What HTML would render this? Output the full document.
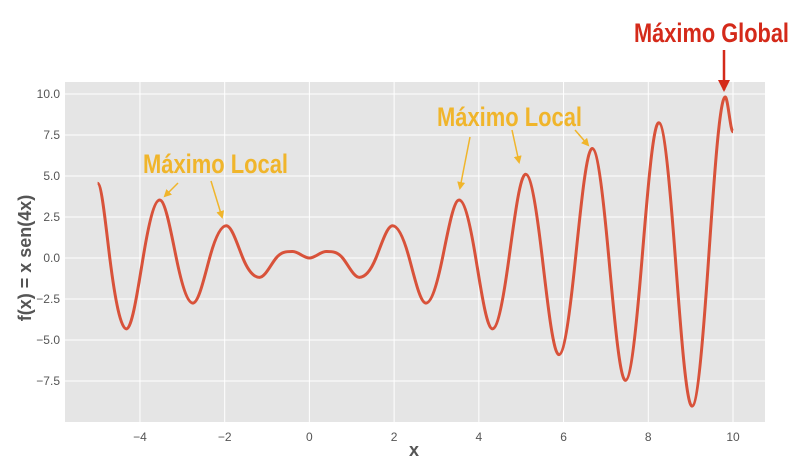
<!DOCTYPE html>
<html><head><meta charset="utf-8"><style>
body{margin:0;background:#fff;}
svg{display:block;font-family:"Liberation Sans",sans-serif;}
.tk{font-size:12px;fill:#555;}
.ann{font-family:"Liberation Sans",sans-serif;font-weight:bold;font-size:27px;}
</style></head><body>
<svg id="c" width="800" height="469">
<rect x="65" y="82" width="700" height="340" fill="#e5e5e5"/>
<g id="grid"></g><g id="ticks"></g>
<path id="curve" fill="none" stroke="#d8523a" stroke-width="3"/>
<text x="0" y="0" transform="translate(31,258) rotate(-90)" text-anchor="middle" font-size="18" font-weight="bold" fill="#555">f(x) = x sen(4x)</text>
<text x="414" y="456" text-anchor="middle" font-size="18" font-weight="bold" fill="#555">x</text>
<g fill="#f0b52b">
<text class="ann" x="143" y="173" textLength="145" lengthAdjust="spacingAndGlyphs">Máximo Local</text>
<text class="ann" x="437" y="126" textLength="145" lengthAdjust="spacingAndGlyphs">Máximo Local</text>
</g>
<defs><marker id="ah" markerWidth="8" markerHeight="8" refX="6" refY="4" orient="auto" markerUnits="userSpaceOnUse"><path d="M0,0 L8,4 L0,8 Z" fill="#f0b52b"/></marker>
<marker id="ahr" markerWidth="14" markerHeight="12" refX="10" refY="6" orient="auto" markerUnits="userSpaceOnUse"><path d="M0,0 L12,6 L0,12 Z" fill="#d42a1a"/></marker></defs>
<g stroke="#f0b52b" stroke-width="1.5" marker-end="url(#ah)">
<line x1="178" y1="183" x2="165" y2="196"/>
<line x1="211" y1="181" x2="222" y2="217"/>
<line x1="470" y1="137" x2="460" y2="188"/>
<line x1="512" y1="130" x2="519" y2="162"/>
<line x1="575" y1="130" x2="588" y2="145"/>
</g>
<text class="ann" x="634" y="42" fill="#d42a1a" textLength="155" lengthAdjust="spacingAndGlyphs">Máximo Global</text>
<line x1="724" y1="50" x2="724" y2="90" stroke="#d42a1a" stroke-width="2.5" marker-end="url(#ahr)"/>
</svg>
<script>
const xVals=[-5,-4.712,-4.320,-3.927,-3.534,-3.142,-2.749,-2.356,-1.963,-1.571,-1.178,-0.785,-0.393,0,0.393,0.785,1.178,1.571,1.963,2.356,2.749,3.142,3.534,3.927,4.320,4.712,5.105,5.498,5.890,6.283,6.676,7.069,7.461,7.854,8.247,8.639,9.032,9.425,9.817,10];
const yVals=[4.56,0,-4.320,0,3.534,0,-2.749,0,1.963,0,-1.178,0,0.393,0,0.393,0,-1.178,0,1.963,0,-2.749,0,3.534,0,-4.320,0,5.105,0,-5.890,0,6.676,0,-7.461,0,8.247,0,-9.032,0,9.817,7.7];
const xTicks=[-4,-2,0,2,4,6,8,10];
const yTicks=[-7.5,-5.0,-2.5,0.0,2.5,5.0,7.5,10.0];
const X=v=>309.4+v*42.36, Y=v=>258-v*16.4;
const ns="http://www.w3.org/2000/svg";
const grid=document.getElementById('grid'),tk=document.getElementById('ticks');
xTicks.forEach(t=>{
 const l=document.createElementNS(ns,'line');l.setAttribute('x1',X(t));l.setAttribute('x2',X(t));l.setAttribute('y1',82);l.setAttribute('y2',422);l.setAttribute('stroke','#fff');
 
 
 grid.appendChild(l);
 const s=document.createElementNS(ns,'text');s.setAttribute('x',X(t));s.setAttribute('y',441);s.setAttribute('text-anchor','middle');s.setAttribute('class','tk');s.textContent=t<0?'\u2212'+(-t):t;
 
 
 tk.appendChild(s);});
yTicks.forEach(t=>{
 const l=document.createElementNS(ns,'line');l.setAttribute('x1',65);l.setAttribute('x2',765);l.setAttribute('y1',Y(t));l.setAttribute('y2',Y(t));l.setAttribute('stroke','#fff');
 
 
 grid.appendChild(l);
 const s=document.createElementNS(ns,'text');s.setAttribute('x',60);s.setAttribute('y',Y(t)+4);s.setAttribute('text-anchor','end');s.setAttribute('class','tk');s.textContent=(t<0?'\u2212':'')+Math.abs(t).toFixed(1);
 
 
 tk.appendChild(s);});
const P=xVals.map((x,i)=>[X(x),Y(yVals[i])]);
// Hermite tangents: horizontal tangents at extrema, sine-like slope (pi/2 factor) at zeros
const T=P.map((p,i)=>{
 const a=P[Math.max(0,i-1)],b=P[Math.min(P.length-1,i+1)];
 const isZero=Math.abs(yVals[i])<1e-9;
 return [(b[0]-a[0])/2, isZero?(b[1]-a[1])/2*Math.PI/2:0];
});
let d='M'+P[0][0]+','+P[0][1];
for(let i=0;i<P.length-1;i++){
 const p1=P[i],p2=P[i+1];
 const f=(p2[0]-p1[0]);
 const t1=T[i],t2=T[i+1];
 const s1=f/(t1[0]||f),s2=f/(t2[0]||f);
 const c1=[p1[0]+t1[0]*s1/3,p1[1]+t1[1]*s1/3];
 const c2=[p2[0]-t2[0]*s2/3,p2[1]-t2[1]*s2/3];
 d+=' C'+c1+' '+c2+' '+p2;}
document.getElementById('curve').setAttribute('d',d);
</script>
</body></html>
